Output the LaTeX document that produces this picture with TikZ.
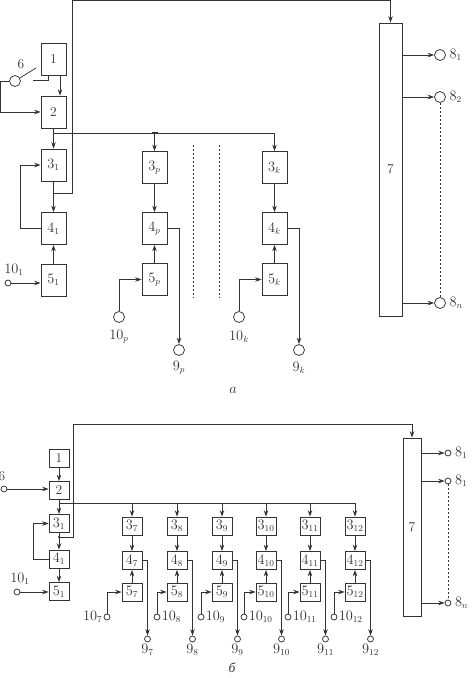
\documentclass[tikz,border=0pt]{standalone}
\usepackage{amssymb,amsmath}
\usepackage{fontspec}
\newfontfamily\cyrfont{Liberation Serif}
\usetikzlibrary{arrows.meta}

\begin{document}
\begin{tikzpicture}[x=1pt,y=-1pt,line width=0.75pt,color=black!80,
    >={Stealth[length=6.5pt,width=4.5pt]},
    font=\fontsize{13.5}{15}\selectfont,
    blk/.style={draw,inner sep=0pt,minimum width=25pt,minimum height=32pt},
    sblk/.style={draw,inner sep=0pt,minimum width=20pt,minimum height=18pt},
    term/.style={draw,circle,inner sep=0pt,minimum size=11pt},
    sterm/.style={draw,circle,inner sep=0pt,minimum size=6pt},
    jn/.style={line width=1.8pt},
    gap/.style={dash pattern=on 2pt off 2pt}]
  \useasboundingbox (0,0) rectangle (474,678);

  % --- a ---
  \node[blk] (b1) at (53.5,59) {1};
  \node[blk] (b2) at (53.5,112) {2};
  \node[blk] (b31) at (53.5,165) {$3_1$};
  \node[blk] (b41) at (53.5,228.5) {$4_1$};
  \node[blk] (b51) at (53.5,280) {$5_1$};
  \node[draw,minimum width=23pt,minimum height=293pt] (b7) at (390.5,169.5) {7};

  \node[term] (c6) at (15,81) {};
  \node (l6) at (21,64) {6};
  \coordinate (sw) at (36,68);
  \coordinate (k1) at (33,80);
  \coordinate (lft) at (0.5,81);
  \draw (c6.32) -- (sw);
  \draw (k1) -| ([xshift=-5.5pt]b1.south);
  \draw (c6.west) -- (lft);
  \draw[->] (lft) |- (b2.west);
  \draw[->] ([xshift=6.5pt]b1.south) -- ([xshift=6.5pt]b2.north);

  \foreach \c/\x in {p/154.5,k/274.5}{
    \node[blk] (b3\c) at (\x,167.5) {$3_\c$};
    \node[blk] (b4\c) at (\x,228.5) {$4_\c$};
    \node[blk] (b5\c) at (\x,279.5) {$5_\c$};
    \node[term] (c10\c) at (\x-35.5,317) {};
    \node[term] (c9\c) at (\x+24.5,350) {};
    \node (l10\c) at (\x-35.5,337) {$10_\c$};
    \node (l9\c) at (\x+24.5,368) {$9_\c$};
    \draw[->] (b3\c) -- (b4\c);
    \draw[->] (b5\c) -- (b4\c);
    \draw[->] (b4\c.east) -| (c9\c.north);
    \draw[->] (c10\c.north) |- (b5\c.west);
  }

  \coordinate (bus) at (53.5,133);
  \coordinate (tp) at (bus -| b3p.north);
  \draw[->] (b2.south) -- (b31.north);
  \draw[->] (bus) -| (b3k.north);
  \draw[->] (tp) -- (b3p.north);
  \draw[jn] ([xshift=-3pt]tp) -- ([xshift=3pt]tp);

  \coordinate (j1) at (53.5,193);
  \coordinate (t1) at (72,0.7);
  \draw[->] (b31.south) -- (b41.north);
  \draw[->] (j1) -| (t1) -| (b7.north);
  \draw[jn] ([yshift=3pt]j1) -- ([yshift=-3pt]j1);
  \draw[->] (b41.west) -- ++(-20,0) |- (b31.west);
  \draw[->] (b51.north) -- (b41.south);

  \node[sterm] (c101) at (8,283) {};
  \node (l101) at (14,270) {$10_1$};
  \draw[->] (c101) -- (c101 -| b51.west);

  \draw[gap] (193,145) -- (193,298);
  \draw[gap] (219,145) -- (219,298);

  \foreach \n/\y/\s in {1/55/1,2/97/2,n/303/n}{
    \node[term] (c8\n) at (440,\y) {};
    \node[right] (l8\n) at (c8\n.east) {$8_\s$};
    \draw[->] (b7.east |- c8\n) -- (c8\n);
  }
  \draw[gap] (c82) -- (c8n);
  \node (la) at (233,390) {$a$};

  % --- b ---
  \node[sblk] (B1) at (59,458) {1};
  \node[sblk] (B2) at (59,490.5) {2};
  \node[sblk] (B31) at (59,523.5) {$3_1$};
  \node[sblk] (B41) at (59,559) {$4_1$};
  \node[sblk] (B51) at (59,591.5) {$5_1$};
  \node[draw,minimum width=18pt,minimum height=178pt] (B7) at (412,527) {7};

  \node[sterm] (c6b) at (4,489) {};
  \node (l6b) at (2,476) {6};
  \draw[->] (c6b) -- (c6b -| B2.west);
  \draw[->] (B1) -- (B2);
  \draw[->] (B2) -- (B31);
  \draw[->] (B31) -- (B41);
  \draw[->] (B41) -- (B51);
  \draw[->] (B41.west) -- ++(-15,0) |- (B31.west);
  \node[sterm] (c101b) at (17,592) {};
  \node (l101b) at (20,579) {$10_1$};
  \draw[->] (c101b) -- (c101b -| B51.west);

  \coordinate (j2) at (59,537);
  \coordinate (t2) at (73,424);
  \fill (j2) circle (1.2pt);
  \draw[->] (j2) -| (t2) -| (B7.north);

  \coordinate (busb) at (59,503);
  \foreach \i/\x/\d/\s/\a in {7/132/-25/left/west,8/177/-20/right/east,
      9/222/-21/right/east,10/266/-22/right/east,11/310/-22/right/east,
      12/355/-21/right/east}{
    \node[sblk] (B3\i) at (\x,526) {$3_{\i}$};
    \node[sblk] (B4\i) at (\x,560.5) {$4_{\i}$};
    \node[sblk] (B5\i) at (\x,592) {$5_{\i}$};
    \node[sterm] (c10\i) at (\x+\d,617) {};
    \node[\s,inner sep=1pt] (l10\i) at (c10\i.\a) {$10_{\i}$};
    \node[sterm] (c9\i) at (\x+15.5,639) {};
    \node[below,inner sep=1pt] (l9\i) at (c9\i.south) {$9_{\i}$};
    \draw[->] (busb -| B3\i.north) -- (B3\i.north);
    \draw[->] (B3\i) -- (B4\i);
    \draw[->] (B5\i) -- (B4\i);
    \draw[->] (B4\i.east) -| (c9\i.north);
    \draw[->] (c10\i.north) |- (B5\i.west);
  }
  \draw (busb) -- (busb -| B312.north);

  \foreach \n/\y/\s in {1/453/1,2/481/1,n/603/n}{
    \node[sterm] (C8\n) at (448,\y) {};
    \node[right] (L8\n) at (C8\n.east) {$8_\s$};
    \draw[->] (B7.east |- C8\n) -- (C8\n);
  }
  \draw[gap] (C82) -- (C8n);
  \node (lb) at (232,668) {\cyrfont\itshape б};
\end{tikzpicture}
\end{document}
